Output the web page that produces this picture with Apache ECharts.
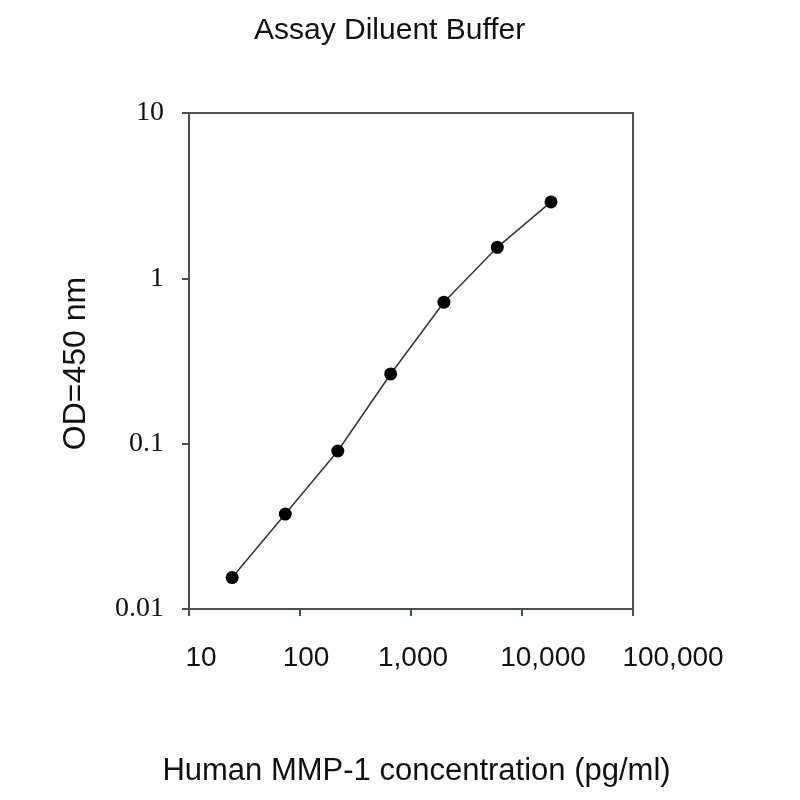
<!DOCTYPE html>
<html>
<head>
    <meta charset="utf-8">
    <title>Assay Diluent Buffer</title>
    <script src="https://cdn.jsdelivr.net/npm/echarts@6/dist/echarts.min.js"></script>
</head>
<body style="margin:0;background:#fff">

<div id="main" style="width:800px;height:800px;"></div>

<script type="text/javascript">
    // standard curve
    var concentration = [24.5, 73.7, 219, 656, 1980, 5990, 18250];
    var od450 = [0.0155, 0.0375, 0.0903, 0.264, 0.717, 1.54, 2.90];

    // x tick labels in the original sit a little right of their ticks
    var xLabelShift = [24, 12, 4, 42, 80];

    var points = [];
    for (var i = 0; i < concentration.length; i++) {
        points.push([concentration[i], od450[i]]);
    }

    var rich = {};
    for (var k = 0; k < xLabelShift.length; k++) {
        rich['a' + k] = {
            fontFamily: 'Liberation Sans',
            fontSize: 28,
            color: '#111',
            padding: [0, 0, 0, xLabelShift[k]]
        };
    }

    var axisColor = '#4a4f4f';

    var myChart = echarts.init(document.getElementById('main'));

    myChart.setOption({
        animation: false,
        backgroundColor: '#fff',
        title: {
            text: 'Assay Diluent Buffer',
            left: 249,
            top: 11,
            textStyle: {
                fontFamily: 'Liberation Sans',
                fontSize: 30,
                fontWeight: 'normal',
                color: '#111'
            }
        },
        grid: {
            left: 189,
            right: 167,
            top: 113,
            bottom: 191,
            show: true,
            borderColor: axisColor,
            borderWidth: 2
        },
        xAxis: {
            type: 'log',
            logBase: 10,
            min: 10,
            max: 100000,
            name: 'Human MMP-1 concentration (pg/ml)',
            nameLocation: 'middle',
            nameGap: 147,
            nameTextStyle: {
                fontFamily: 'Liberation Sans',
                fontSize: 31,
                color: '#111',
                padding: [0, 0, 0, 11]
            },
            axisLine: {lineStyle: {color: axisColor, width: 2}},
            axisTick: {inside: false, length: 7, lineStyle: {color: axisColor, width: 2}},
            splitLine: {show: false},
            minorTick: {show: false},
            axisLabel: {
                margin: 35,
                fontFamily: 'Liberation Sans',
                fontSize: 28,
                color: '#111',
                rich: rich,
                formatter: function (v) {
                    var idx = Math.round(Math.log(v) / Math.LN10) - 1;
                    return '{a' + idx + '|' + Math.round(v).toLocaleString('en-US') + '}';
                }
            }
        },
        yAxis: {
            type: 'log',
            logBase: 10,
            min: 0.01,
            max: 10,
            name: 'OD=450 nm',
            nameLocation: 'middle',
            nameGap: 97,
            nameTextStyle: {
                fontFamily: 'Liberation Sans',
                fontSize: 32,
                color: '#111',
                padding: [0, 5, 0, 0]
            },
            axisLine: {lineStyle: {color: axisColor, width: 2}},
            axisTick: {inside: false, length: 7, lineStyle: {color: axisColor, width: 2}},
            splitLine: {show: false},
            axisLabel: {
                margin: 25,
                fontFamily: 'Liberation Serif',
                fontSize: 28,
                color: '#111',
                formatter: function (v) {
                    return String(+v.toPrecision(1));
                }
            }
        },
        series: [
            {
                type: 'line',
                data: points,
                symbol: 'circle',
                symbolSize: 13,
                itemStyle: {color: '#000'},
                lineStyle: {color: '#333', width: 1.5}
            }
        ]
    });
</script>
</body>
</html>
